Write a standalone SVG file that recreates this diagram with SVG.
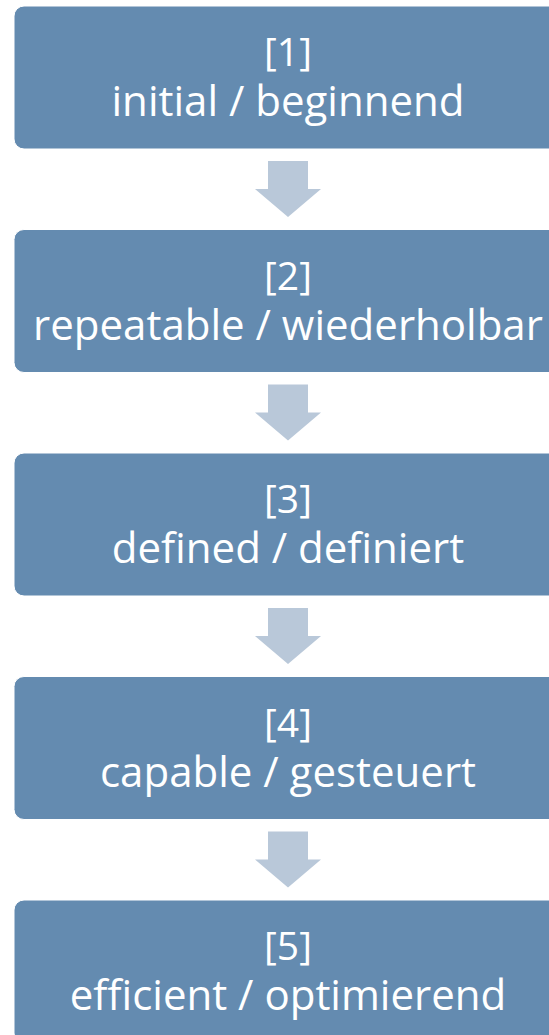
<svg xmlns="http://www.w3.org/2000/svg" width="549" height="1035" viewBox="0 0 549 1035">
<defs>
<style>
.box{fill:#648BB0;stroke:#ffffff;stroke-width:1}
.arr{fill:#B9C8D9}
.t{fill:#ffffff;font-family:"Open Sans","Noto Sans",sans-serif;font-size:42px;text-anchor:middle}
.n{font-size:39px}
</style>
<path id="arrowShape" d="M-20,0 H20 V28 H33 L0,56 L-33,28 H-20 Z"/>
</defs>
<rect width="549" height="1035" fill="#ffffff"/>
<g id="connectors">
<use href="#arrowShape" class="arr" x="288" y="161"/>
<use href="#arrowShape" class="arr" x="288" y="384.5"/>
<use href="#arrowShape" class="arr" x="288" y="608"/>
<use href="#arrowShape" class="arr" x="288" y="831.5"/>
</g>
<g id="node1">
<rect class="box" x="14" y="6" width="548" height="143" rx="10"/>
<text class="t n" x="288" y="66">[1]</text>
<text class="t" x="288" y="116">initial / beginnend</text>
</g>
<g id="node2">
<rect class="box" x="14" y="229.5" width="548" height="143" rx="10"/>
<text class="t n" x="288" y="289.5">[2]</text>
<text class="t" x="288" y="339.5">repeatable / wiederholbar</text>
</g>
<g id="node3">
<rect class="box" x="14" y="453" width="548" height="143" rx="10"/>
<text class="t n" x="288" y="513">[3]</text>
<text class="t" x="288" y="563">defined / definiert</text>
</g>
<g id="node4">
<rect class="box" x="14" y="676.5" width="548" height="143" rx="10"/>
<text class="t n" x="288" y="736.5">[4]</text>
<text class="t" x="288" y="786.5">capable / gesteuert</text>
</g>
<g id="node5">
<rect class="box" x="14" y="900" width="548" height="143" rx="10"/>
<text class="t n" x="288" y="960">[5]</text>
<text class="t" x="288" y="1010">efficient / optimierend</text>
</g>
</svg>
